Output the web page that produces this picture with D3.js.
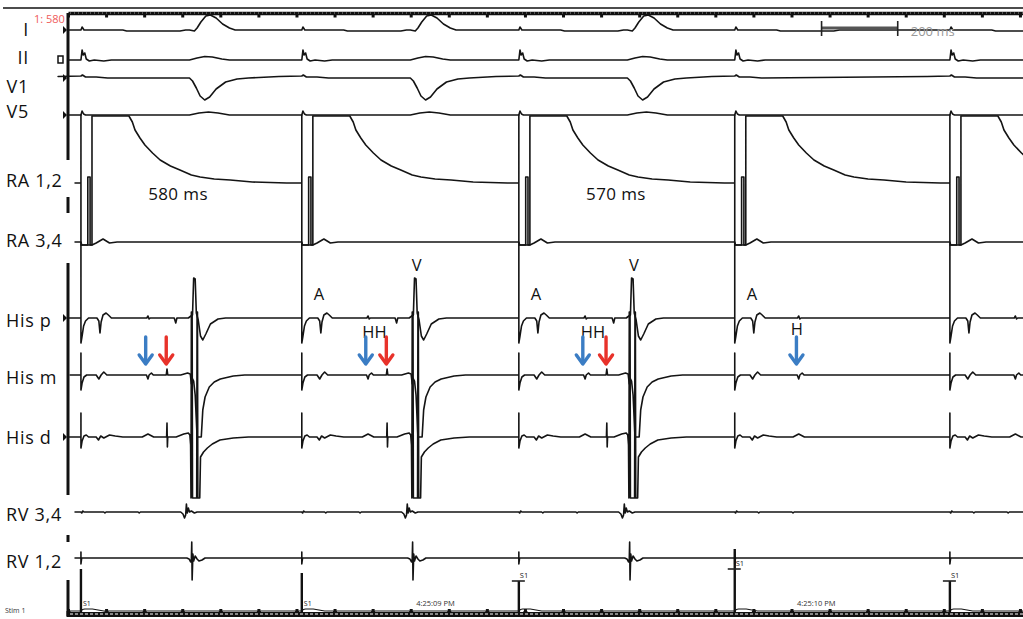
<!DOCTYPE html>
<html>
<head>
<meta charset="utf-8">
<script src="https://cdn.jsdelivr.net/npm/d3@7"></script>
<style>
  body { margin: 0; background: #fff; }
  svg { display: block; }
  text { font-family: "Open Sans", sans-serif; }
</style>
</head>
<body>
<div id="egm"></div>
<script>
// ---- data (time in ms after each pacing stimulus, amplitude in display units, up = positive)
var stimTimes = [0, 580, 1150, 1717, 2282];
var his1Times = [176, 174, 174, 168, 172];      // first His deflection (blue arrows)
var his2Times = [226, 224, 231, null, null];    // second His deflection (red arrows)
var conducted = [true, true, true, false, false];
var stimAmps = [42, 38, 30, 62, 30];
var stimMarkAmps = [null, null, 30, 42, 30];

var channelNames = ['I', 'II', 'V1', 'V5', 'RA 1,2', 'RA 3,4', 'His p', 'His m', 'His d', 'RV 3,4', 'RV 1,2'];

var paceI = [[0, 0], [3, 3], [8, 0], [15, 0], [110, 0], [120, -1], [260, -1], [275, 0]];
var qrsI = [[285, 0], [298, -1], [305, 2], [315, 8], [328, 14], [340, 15], [355, 12], [372, 6], [390, 2], [405, 0]];
var paceII = [[0, 0], [3, 10], [6, 5], [10, 7], [14, 1], [22, -1], [35, 0], [60, -1], [80, 0]];
var qrsII = [[285, 0], [305, 2], [325, 3.5], [345, 3], [370, 1], [390, 0]];
var paceV1 = [[-60, 1.5], [0, 2], [4, 3], [12, 1], [40, 1], [70, 0]];
var qrsV1 = [[285, 0], [293, -3], [303, -10], [313, -18], [325, -22], [338, -19], [355, -11], [380, -4], [410, -1], [440, 0]];
var paceV5 = [[0, 0], [3, 4], [7, 1], [12, 0]];
var qrsV5 = [[285, 0], [310, 2], [335, 3], [360, 2], [390, 0]];
var paceRA12 = [[0, -1], [0, 67], [0, -63], [18, -63], [18, 5], [24, 5], [24, -63], [29, -63], [29, 66], [126, 66],
  [135, 60], [142, 52], [155, 44], [168, 37], [188, 29], [208, 22], [235, 16], [260, 12], [290, 7], [313, 5],
  [350, 3], [392, 2], [450, 0], [540, -1]];
var paceRA34 = [[0, 0], [2, -3], [29, -3], [40, -1], [58, 3], [75, -1], [95, 0]];
var paceHisP = [[0, 0], [0, 73], [0, -25], [3, -18], [7, -8], [12, -3], [20, 0], [42, 0], [47, -3], [50, -15],
  [53, -4], [58, 3], [66, 5], [72, 3], [80, 0]];
var hisHisP = [[-3, 0], [0, 2], [3, -1], [6, 0]];
var qrsHisP = [[245, 0], [249, -5], [252, 0], [282, 0], [289, 2], [293, 3], [296, 40], [300, 39], [303, 5], [308, -2],
  [314, -18], [320, -22], [328, -16], [340, -6], [360, -1], [380, 0]];
var paceHisM = [[0, 0], [0, 22], [0, -15], [3, -8], [8, -2], [15, 0], [40, 0], [47, -4], [53, 0], [60, 3], [68, 0]];
var hisHisM = [[-4, 0], [0, -4], [3, 0], [9, 2], [14, 0]];
var his2HisM = [[-2, 0], [0, 6], [2, 0]];
var qrsHisM = [[262, 0], [280, 2], [287, 1], [290, -9], [292, -3], [296, -6], [300, -20], [305, -62], [316, -62],
  [320, -35], [326, -22], [337, -12], [350, -7], [366, -4], [400, -1], [430, 0]];
var paceHisD = [[0, 0], [0, 24], [0, -11], [3, -4], [8, 1], [14, 2], [20, 0], [40, 0], [46, -3], [52, 1], [60, -1],
  [75, 2], [90, 1], [110, 0]];
var hisHisD = [[-15, 0], [0, 3], [15, 0]];
var his2HisD = [[-1, 0], [0, 14], [1, -10], [2, 0]];
var qrsHisD = [[250, 0], [270, 3], [282, 4], [286, 2], [288, -8], [289, -61], [290, 125], [292, 125], [293, -61],
  [304, -61], [305, 125], [306, 125], [307, -61], [312, -61], [314, -20], [322, -15], [332, -11], [345, -7],
  [365, -3], [400, -1], [440, 0]];
var paceRV34 = [[0, 0], [2, -1], [5, 1], [8, 0], [60, 0], [63, -1], [66, 0], [150, 0], [153, -1], [156, 0]];
var qrsRV34 = [[262, 0], [268, -2], [272, -6], [275, -3], [277, 8], [279, -1], [282, 4], [285, 0], [290, 1], [298, -1], [305, 0]];
var paceRV12 = [[0, 0], [0, 6], [0, -6], [2, 0]];
var qrsRV12 = [[278, 0], [284, -1], [288, -4], [290, -1], [291, 16], [292, -22], [294, 4], [296, -3], [300, 2],
  [305, -1], [310, -3], [318, -2], [326, 0]];
var stimTail = [[1, 0], [4, 1.5], [10, 2], [30, 2], [45, 1], [60, 0]];

var intervalLabels = [{ beat: 0, t: 255, text: '580 ms' }, { beat: 2, t: 255, text: '570 ms' }];
var aLabelBeats = [1, 2, 3];
var vLabelBeats = [1, 2];
var hhLabelBeats = [1, 2];
var hLabelBeats = [3];
var clockLabels = [{ t: 931, text: '4:25:09 PM' }, { t: 1931, text: '4:25:10 PM' }];
var scaleBar = [1945, 2145];

// ---- layout
var W = 1023, H = 619;
var x = d3.scaleLinear().domain([-34, 2474]).range([68, 1023]);

var layout = {
  'I':      { base: 30,  t0: -34, ly: 36,  lx: 29, anchor: 'end' },
  'II':     { base: 60,  t0: -34, ly: 64,  lx: 29, anchor: 'end' },
  'V1':     { base: 78,  t0: -34, ly: 93,  lx: 29, anchor: 'end' },
  'V5':     { base: 115, t0: -34, ly: 118, lx: 29, anchor: 'end' },
  'RA 1,2': { base: 182, t0: -17, ly: 187, lx: 6,  anchor: 'start' },
  'RA 3,4': { base: 242, t0: -17, ly: 247, lx: 6,  anchor: 'start' },
  'His p':  { base: 318, t0: -34, ly: 327, lx: 6,  anchor: 'start' },
  'His m':  { base: 375, t0: -30, ly: 384, lx: 6,  anchor: 'start' },
  'His d':  { base: 437, t0: -34, ly: 444, lx: 6,  anchor: 'start' },
  'RV 3,4': { base: 512, t0: -17, ly: 521, lx: 6,  anchor: 'start' },
  'RV 1,2': { base: 558, t0: -17, ly: 568, lx: 6,  anchor: 'start' }
};
var stimBase = 611;

var templates = {
  'I': { pace: paceI, v: qrsI },
  'II': { pace: paceII, v: qrsII },
  'V1': { pace: paceV1, v: qrsV1 },
  'V5': { pace: paceV5, v: qrsV5 },
  'RA 1,2': { pace: paceRA12 },
  'RA 3,4': { pace: paceRA34 },
  'His p': { pace: paceHisP, h1: hisHisP, v: qrsHisP },
  'His m': { pace: paceHisM, h1: hisHisM, h2: his2HisM, v: qrsHisM },
  'His d': { pace: paceHisD, h1: hisHisD, h2: his2HisD, v: qrsHisD },
  'RV 3,4': { pace: paceRV34, v: qrsRV34 },
  'RV 1,2': { pace: paceRV12, v: qrsRV12 }
};

function buildTrace(name) {
  var tp = templates[name];
  var pts = [];
  stimTimes.forEach(function(s, i) {
    tp.pace.forEach(function(p) { pts.push([s + p[0], p[1]]); });
    if (tp.h1 && his1Times[i] != null) tp.h1.forEach(function(p) { pts.push([s + his1Times[i] + p[0], p[1]]); });
    if (tp.h2 && his2Times[i] != null) tp.h2.forEach(function(p) { pts.push([s + his2Times[i] + p[0], p[1]]); });
    if (tp.v && conducted[i]) tp.v.forEach(function(p) { pts.push([s + p[0], p[1]]); });
  });
  pts.sort(function(a, b) { return a[0] - b[0]; });
  pts.unshift([layout[name].t0, name === 'RA 1,2' ? -1 : (name === 'V1' ? 1.5 : 0)]);
  pts.push([2600, pts[pts.length - 1][1]]);
  return pts;
}

var svg = d3.select('#egm').append('svg')
  .attr('width', W)
  .attr('height', H);

// top line and time ruler
svg.append('line').attr('x1', 3).attr('x2', W).attr('y1', 8).attr('y2', 8)
  .attr('stroke', '#111').attr('stroke-width', 1.6);

var rulerTicks = d3.range(-34, 2474, 100);

var topAxis = svg.append('g').attr('transform', 'translate(0,13)')
  .call(d3.axisBottom(x).tickValues(rulerTicks).tickFormat('').tickSize(4.5).tickSizeOuter(0));
topAxis.select('.domain').attr('stroke', '#111').attr('stroke-width', 3.5);
topAxis.selectAll('.tick line').attr('stroke', '#111').attr('stroke-width', 3);
svg.append('line').attr('x1', 70).attr('x2', W).attr('y1', 13).attr('y2', 13)
  .attr('stroke', '#fff').attr('stroke-width', 0.8).attr('stroke-dasharray', '1,3').attr('opacity', 0.7);

var botAxis = svg.append('g').attr('transform', 'translate(0,614)')
  .call(d3.axisTop(x).tickValues(rulerTicks).tickFormat('').tickSize(5).tickSizeOuter(0));
botAxis.select('.domain').attr('stroke', '#111').attr('stroke-width', 5);
botAxis.selectAll('.tick line').attr('stroke', '#111').attr('stroke-width', 3);
svg.append('line').attr('x1', 70).attr('x2', W).attr('y1', 614).attr('y2', 614)
  .attr('stroke', '#fff').attr('stroke-width', 1).attr('stroke-dasharray', '3,2');
botAxis.selectAll('.tick').append('rect')
  .attr('x', -2).attr('y', -3).attr('width', 4).attr('height', 6).attr('fill', '#111');

// left axis (dashed thick line)
var leftSegments = [[13, 160], [197, 213], [263, 495], [535, 542], [580, 616]];
svg.selectAll('.left-seg').data(leftSegments).enter().append('line')
  .attr('class', 'left-seg')
  .attr('x1', 68).attr('x2', 68)
  .attr('y1', function(d) { return d[0]; })
  .attr('y2', function(d) { return d[1]; })
  .attr('stroke', '#111').attr('stroke-width', 3);

// traces
var traces = svg.append('g').attr('fill', 'none').attr('stroke', '#141414')
  .attr('stroke-width', 1.6).attr('stroke-linejoin', 'round');

channelNames.forEach(function(name) {
  var L = layout[name];
  var y = d3.scaleLinear().domain([0, 1]).range([L.base, L.base - 1]);
  var line = d3.line()
    .x(function(d) { return x(d[0]); })
    .y(function(d) { return y(d[1]); });
  traces.append('path').datum(buildTrace(name)).attr('d', line);

  svg.append('text')
    .attr('x', L.lx).attr('y', L.ly)
    .attr('text-anchor', L.anchor)
    .attr('font-size', 18)
    .attr('letter-spacing', 0.7)
    .attr('fill', '#111')
    .text(name);
});

// channel markers at the left
[['I', 64], ['V1', 64], ['V5', 64], ['His p', 64], ['His d', 64]].forEach(function(m) {
  var b = layout[m[0]].base;
  svg.append('path').attr('d', 'M' + (m[1] - 1) + ',' + (b - 4) + 'L' + (m[1] + 3) + ',' + b + 'L' + (m[1] - 1) + ',' + (b + 4) + 'Z')
    .attr('fill', '#111');
});
svg.append('rect').attr('x', 58).attr('y', 56).attr('width', 5).attr('height', 7)
  .attr('fill', 'none').attr('stroke', '#111').attr('stroke-width', 1.5);

// stim channel
var stimY = d3.scaleLinear().domain([0, 1]).range([stimBase, stimBase - 1]);
var stimPts = [[-34, 0]];
stimTimes.forEach(function(s) {
  stimTail.forEach(function(p) { stimPts.push([s + p[0], p[1]]); });
});
stimPts.push([2600, 0]);
traces.append('path').datum(stimPts)
  .attr('d', d3.line().x(function(d) { return x(d[0]); }).y(function(d) { return stimY(d[1]); }))
  .attr('stroke-width', 1.2);

svg.selectAll('.stim-pulse').data(stimTimes).enter().append('line')
  .attr('class', 'stim-pulse')
  .attr('x1', function(d) { return x(d); }).attr('x2', function(d) { return x(d); })
  .attr('y1', stimY(0) + 2)
  .attr('y2', function(d, i) { return stimY(stimAmps[i]); })
  .attr('stroke', '#111').attr('stroke-width', 2.4);

stimTimes.forEach(function(s, i) {
  var m = stimMarkAmps[i];
  if (m != null) {
    svg.append('line').attr('x1', x(s) - 7).attr('x2', x(s) + 6)
      .attr('y1', stimY(m)).attr('y2', stimY(m))
      .attr('stroke', '#222').attr('stroke-width', 1.6);
    svg.append('text').attr('x', x(s) + 1).attr('y', stimY(m) - 3)
      .attr('font-size', 7.5).attr('fill', '#222').attr('font-family', 'Liberation Sans')
      .text('S1');
  } else {
    svg.append('text').attr('x', x(s) + 2).attr('y', stimY(0) - 5)
      .attr('font-size', 7).attr('fill', '#222').attr('font-family', 'Liberation Sans')
      .text('S1');
  }
});

svg.append('text').attr('x', 5).attr('y', 613)
  .attr('font-size', 7).attr('fill', '#333').attr('font-family', 'Liberation Sans')
  .text('Stim 1');

clockLabels.forEach(function(c) {
  svg.append('text').attr('x', x(c.t)).attr('y', 606).attr('text-anchor', 'middle')
    .attr('font-size', 7.5).attr('fill', '#333').attr('font-family', 'Liberation Sans')
    .text(c.text);
});

// header labels
svg.append('text').attr('x', 34).attr('y', 23)
  .attr('font-size', 11).attr('fill', '#ef5b5b').attr('font-family', 'Liberation Sans')
  .text('1: 580');

svg.append('line').attr('x1', x(scaleBar[0])).attr('x2', x(scaleBar[1])).attr('y1', 28).attr('y2', 28)
  .attr('stroke', '#555').attr('stroke-width', 3);
scaleBar.forEach(function(t) {
  svg.append('line').attr('x1', x(t)).attr('x2', x(t)).attr('y1', 21).attr('y2', 36)
    .attr('stroke', '#222').attr('stroke-width', 1.6);
});
svg.append('text').attr('x', x(scaleBar[1]) + 13).attr('y', 36)
  .attr('font-size', 13).attr('fill', '#999').attr('font-family', 'Liberation Sans')
  .text('200 ms');

// interval labels
intervalLabels.forEach(function(d) {
  svg.append('text').attr('x', x(stimTimes[d.beat] + d.t)).attr('y', 200)
    .attr('text-anchor', 'middle').attr('font-size', 17).attr('letter-spacing', 0.4).attr('fill', '#111')
    .text(d.text);
});

// annotations
var hisPBase = layout['His p'].base, hisMBase = layout['His m'].base;
aLabelBeats.forEach(function(b) {
  svg.append('text').attr('x', x(stimTimes[b] + 45)).attr('y', hisPBase - 18)
    .attr('text-anchor', 'middle').attr('font-size', 16.5).attr('fill', '#111').text('A');
});
vLabelBeats.forEach(function(b) {
  svg.append('text').attr('x', x(stimTimes[b] + 302)).attr('y', hisPBase - 47)
    .attr('text-anchor', 'middle').attr('font-size', 16.5).attr('fill', '#111').text('V');
});
hhLabelBeats.forEach(function(b) {
  var mid = (his1Times[b] + his2Times[b]) / 2 - 8;
  svg.append('text').attr('x', x(stimTimes[b] + mid)).attr('y', hisPBase + 20)
    .attr('text-anchor', 'middle').attr('font-size', 16.5).attr('fill', '#111').text('HH');
});
hLabelBeats.forEach(function(b) {
  svg.append('text').attr('x', x(stimTimes[b] + his1Times[b] - 5)).attr('y', hisPBase + 17)
    .attr('text-anchor', 'middle').attr('font-size', 16.5).attr('fill', '#111').text('H');
});

function arrow(cx, color) {
  var top = hisMBase - 38, tip = hisMBase - 11;
  var g = svg.append('g').attr('stroke', color).attr('fill', 'none')
    .attr('stroke-width', 3.4).attr('stroke-linecap', 'round').attr('stroke-linejoin', 'round');
  g.append('line').attr('x1', cx).attr('x2', cx).attr('y1', top).attr('y2', tip - 1);
  g.append('path').attr('d', 'M' + (cx - 6.5) + ',' + (tip - 9) + 'L' + cx + ',' + tip + 'L' + (cx + 6.5) + ',' + (tip - 9));
}
stimTimes.forEach(function(s, i) {
  if (i < 4 && his1Times[i] != null) arrow(x(s + his1Times[i] - 6), '#3b7dc4');
  if (his2Times[i] != null) arrow(x(s + his2Times[i] - 2), '#e8322a');
});
</script>
</body>
</html>
